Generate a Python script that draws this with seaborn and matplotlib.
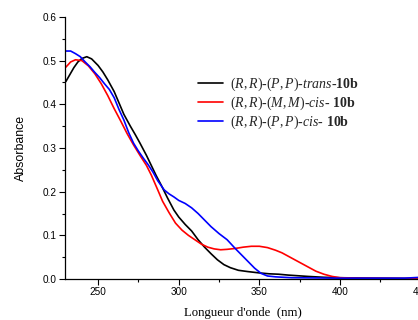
import numpy as np
import pandas as pd
import matplotlib
matplotlib.use('Agg')
import seaborn as sns
import matplotlib.pyplot as plt
from matplotlib.ticker import MultipleLocator

# (R,R)-(P,P)-trans-10b
trans_nm = [230, 232.5, 235, 237.5, 240, 243, 246, 250, 253, 256, 260, 263, 266, 270,
            273, 276, 280, 283, 286, 289, 293, 297, 300, 304, 308, 312, 316, 320, 324,
            328, 332, 337, 343, 350, 356, 362, 368, 380, 390, 400, 420, 450]
trans_abs = [0.452, 0.468, 0.484, 0.497, 0.505, 0.509, 0.504, 0.489, 0.474, 0.456, 0.429,
             0.403, 0.377, 0.35, 0.331, 0.311, 0.283, 0.26, 0.237, 0.216, 0.186, 0.158,
             0.142, 0.125, 0.11, 0.09, 0.073, 0.058, 0.044, 0.033, 0.026, 0.02, 0.017,
             0.014, 0.012, 0.011, 0.009, 0.006, 0.004, 0.003, 0.002, 0.001]

# (R,R)-(M,M)-cis-10b
mm_nm = [230, 233, 236, 240, 244, 248, 252, 256, 260, 264, 268, 272, 276, 280, 283, 287,
         290, 294, 298, 302, 306, 310, 314, 318, 322, 326, 330, 335, 340, 345, 350, 355,
         360, 364, 368, 372, 376, 380, 385, 390, 395, 400, 410, 450]
mm_abs = [0.485, 0.497, 0.502, 0.5, 0.488, 0.47, 0.447, 0.42, 0.39, 0.362, 0.333, 0.307,
          0.283, 0.26, 0.238, 0.204, 0.178, 0.152, 0.128, 0.112, 0.1, 0.09, 0.08, 0.073,
          0.069, 0.067, 0.068, 0.07, 0.073, 0.075, 0.075, 0.072, 0.066, 0.06, 0.052,
          0.044, 0.036, 0.028, 0.018, 0.011, 0.006, 0.003, 0.002, 0.001]

# (R,R)-(P,P)-cis-10b
pp_nm = [230, 233, 236, 239, 242, 245, 248, 251, 254, 257, 260, 263, 266, 269, 272, 275,
         278, 281, 284, 287, 291, 294, 297, 300, 304, 308, 312, 316, 320, 325, 330, 335,
         339, 343, 347, 351, 355, 360, 370, 400, 440, 450]
pp_abs = [0.522, 0.522, 0.516, 0.509, 0.497, 0.486, 0.473, 0.461, 0.447, 0.434, 0.415,
          0.388, 0.364, 0.335, 0.311, 0.293, 0.277, 0.262, 0.245, 0.225, 0.204, 0.195,
          0.188, 0.18, 0.173, 0.163, 0.15, 0.135, 0.12, 0.104, 0.09, 0.07, 0.055, 0.04,
          0.025, 0.013, 0.007, 0.005, 0.003, 0.002, 0.002, 0.004]

labels = [r"$\mathit{(R,R)}$-$\mathit{(P,P)}$-$\mathit{trans}$-$\mathbf{10b}$",
          r"$\mathit{(R,R)}$-$\mathit{(M,M)}$-$\mathit{cis}$- $\mathbf{10b}$",
          r"$\mathit{(R,R)}$-$\mathit{(P,P)}$-$\mathit{cis}$- $\mathbf{10b}$"]

sns.set_style('ticks')
plt.rcParams['font.family'] = ['Liberation Sans', 'DejaVu Sans']
plt.rcParams['mathtext.fontset'] = 'custom'
plt.rcParams['mathtext.rm'] = 'Liberation Serif'
plt.rcParams['mathtext.it'] = 'Liberation Serif:italic'
plt.rcParams['mathtext.bf'] = 'Liberation Serif:bold'

fig = plt.figure(figsize=(4.18, 3.2), dpi=100)
ax = fig.add_axes([0.1555, 0.128, 0.851, 0.819])

sns.lineplot(x=trans_nm, y=trans_abs, color='#000000', lw=1.2, label=labels[0], ax=ax)
sns.lineplot(x=mm_nm, y=mm_abs, color='#ff0000', lw=1.2, label=labels[1], ax=ax)
sns.lineplot(x=pp_nm, y=pp_abs, color='#0000ff', lw=1.2, label=labels[2], ax=ax)

ax.set_xlim(229.5, 450)
ax.set_ylim(0, 0.6)
ax.xaxis.set_major_locator(MultipleLocator(50))
ax.xaxis.set_minor_locator(MultipleLocator(25))
ax.yaxis.set_major_locator(MultipleLocator(0.1))
ax.yaxis.set_minor_locator(MultipleLocator(0.05))
ax.yaxis.set_major_formatter(matplotlib.ticker.FormatStrFormatter('%.1f'))
ax.tick_params(which='major', length=4, width=0.8, color='k', labelcolor='k',
               labelsize=7.2, pad=2)
ax.tick_params(which='minor', length=2.5, width=0.8, color='k')
for s in ['left', 'bottom']:
    ax.spines[s].set_color('k')
    ax.spines[s].set_linewidth(0.9)
sns.despine(ax=ax)

ax.set_xlabel("Longueur d'onde  (nm)", family='Liberation Serif', fontsize=9.2,
              color='k', labelpad=7)
ax.set_ylabel("Absorbance", fontsize=8.9, color='k', labelpad=11)

leg = ax.legend(loc='upper left', bbox_to_anchor=(0.373, 0.775), frameon=False,
                handlelength=1.8, handletextpad=0.55, labelspacing=0.1,
                borderpad=0, borderaxespad=0,
                prop={'family': 'Liberation Serif', 'size': 10})

fig.savefig('out.png', dpi=100)
